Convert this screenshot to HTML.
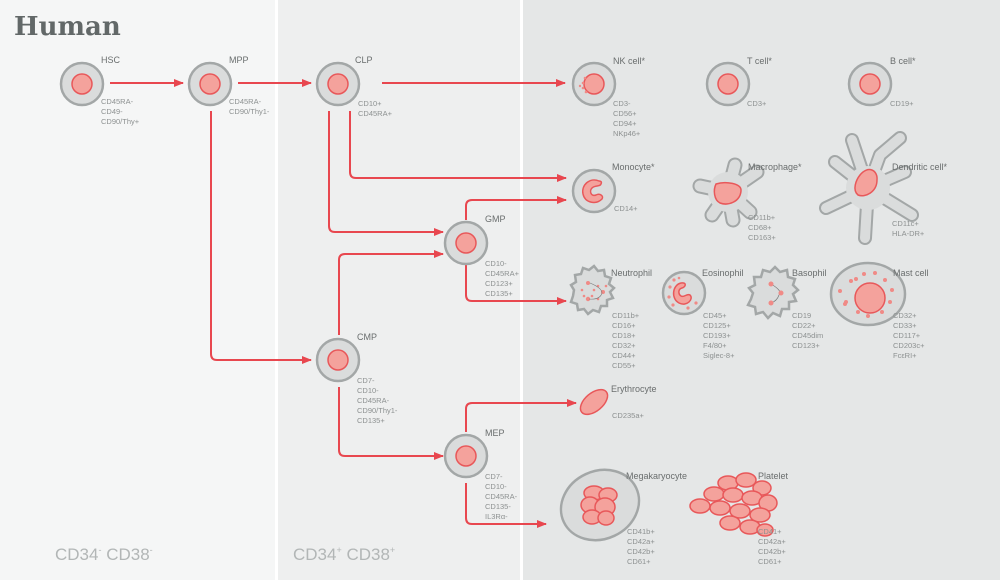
<!DOCTYPE html>
<html><head><meta charset="utf-8"><style>
html,body{margin:0;padding:0;width:1000px;height:580px;overflow:hidden;background:#fff}
svg{display:block}
text{font-family:"Liberation Sans",sans-serif}
.t{font-size:9px;fill:#6a6e6e}
.m{font-size:7.5px;fill:#8d9191}
.ln{stroke:#e8474f;stroke-width:2;fill:none}
.cell{fill:#dadcdc;stroke:#a3a7a7;stroke-width:2.5}
.nuc{fill:#f4a29c;stroke:#e8585a;stroke-width:1.5}
.ar{fill:#e8474f}
</style></head><body>
<svg width="1000" height="580" viewBox="0 0 1000 580">
<defs>
<marker id="a" markerWidth="10" markerHeight="8" refX="9" refY="4" orient="auto" markerUnits="userSpaceOnUse"><path d="M0,0 L10,4 L0,8z" class="ar"/></marker>
<g id="c"><circle r="21" class="cell"/><circle r="10" class="nuc"/></g>
</defs>
<rect x="0" y="0" width="275" height="580" fill="#f5f6f6"/>
<rect x="278" y="0" width="242" height="580" fill="#eeefef"/>
<rect x="523" y="0" width="477" height="580" fill="#e5e7e7"/>
<text x="14" y="35" style="font-family:'DejaVu Serif','Liberation Serif',serif;font-size:26px;font-weight:bold;fill:#626868">Human</text>
<text x="55" y="560" style="font-size:17px;fill:#b2b6b6">CD34<tspan dy="-7" font-size="9">-</tspan><tspan dy="7"> CD38</tspan><tspan dy="-7" font-size="9">-</tspan></text>
<text x="293" y="560" style="font-size:17px;fill:#b2b6b6">CD34<tspan dy="-7" font-size="9">+</tspan><tspan dy="7"> CD38</tspan><tspan dy="-7" font-size="9">+</tspan></text>

<g class="ln">
<path d="M110,83 H183" marker-end="url(#a)"/>
<path d="M238,83 H311" marker-end="url(#a)"/>
<path d="M382,83 H565" marker-end="url(#a)"/>
<path d="M211,111 V354 q0,6 6,6 H311" marker-end="url(#a)"/>
<path d="M329,111 V226 q0,6 6,6 H443" marker-end="url(#a)"/>
<path d="M350,111 V172 q0,6 6,6 H566" marker-end="url(#a)"/>
<path d="M339,335 V260 q0,-6 6,-6 H443" marker-end="url(#a)"/>
<path d="M339,387 V450 q0,6 6,6 H443" marker-end="url(#a)"/>
<path d="M466,220 V206 q0,-6 6,-6 H566" marker-end="url(#a)"/>
<path d="M466,265 V295 q0,6 6,6 H566" marker-end="url(#a)"/>
<path d="M466,432 V409 q0,-6 6,-6 H576" marker-end="url(#a)"/>
<path d="M466,483 V518 q0,6 6,6 H546" marker-end="url(#a)"/>
</g>

<use href="#c" x="82" y="84"/><use href="#c" x="210" y="84"/><use href="#c" x="338" y="84"/>
<use href="#c" x="466" y="243"/><use href="#c" x="338" y="360"/><use href="#c" x="466" y="456"/>
<use href="#c" x="728" y="84"/><use href="#c" x="870" y="84"/>
<g transform="translate(594,84)"><circle r="21" class="cell"/><circle r="10" class="nuc"/>
<g fill="#f08a86"><circle cx="-9" cy="-6" r="1.3"/><circle cx="-11" cy="-1" r="1.3"/><circle cx="-11" cy="4" r="1.3"/><circle cx="-8" cy="8" r="1.3"/><circle cx="-14" cy="2" r="1.2"/></g></g>

<text class="t" x="101" y="63">HSC</text>
<text class="m" x="101" y="104">CD45RA-</text><text class="m" x="101" y="114">CD49-</text><text class="m" x="101" y="124">CD90/Thy+</text>
<text class="t" x="229" y="63">MPP</text>
<text class="m" x="229" y="104">CD45RA-</text><text class="m" x="229" y="114">CD90/Thy1-</text>
<text class="t" x="355" y="63">CLP</text>
<text class="m" x="358" y="106">CD10+</text><text class="m" x="358" y="116">CD45RA+</text>
<text class="t" x="485" y="222">GMP</text>
<text class="m" x="485" y="266">CD10-</text><text class="m" x="485" y="276">CD45RA+</text><text class="m" x="485" y="286">CD123+</text><text class="m" x="485" y="296">CD135+</text>
<text class="t" x="357" y="340">CMP</text>
<text class="m" x="357" y="383">CD7-</text><text class="m" x="357" y="393">CD10-</text><text class="m" x="357" y="403">CD45RA-</text><text class="m" x="357" y="413">CD90/Thy1-</text><text class="m" x="357" y="423">CD135+</text>
<text class="t" x="485" y="436">MEP</text>
<text class="m" x="485" y="479">CD7-</text><text class="m" x="485" y="489">CD10-</text><text class="m" x="485" y="499">CD45RA-</text><text class="m" x="485" y="509">CD135-</text><text class="m" x="485" y="519">IL3Rα-</text>

<text class="t" x="613" y="64">NK cell*</text>
<text class="m" x="613" y="106">CD3-</text><text class="m" x="613" y="116">CD56+</text><text class="m" x="613" y="126">CD94+</text><text class="m" x="613" y="136">NKp46+</text>
<text class="t" x="747" y="64">T cell*</text><text class="m" x="747" y="106">CD3+</text>
<text class="t" x="890" y="64">B cell*</text><text class="m" x="890" y="106">CD19+</text>

<g transform="translate(594,191)"><circle r="21" class="cell"/>
<path d="M5,-10 C-4,-14 -13,-6 -11,3 C-9,12 2,14 8,8 C10,5 6,2 2,4 C-3,6 -5,0 -2,-3 C1,-6 6,-4 7,-7 C8,-9 7,-10 5,-10z" class="nuc"/></g>
<text class="t" x="612" y="170">Monocyte*</text><text class="m" x="614" y="211">CD14+</text>
<g stroke-linecap="round" fill="none">
<g stroke="#a3a7a7" stroke-width="15"><path d="M728,192 L700,186"/><path d="M728,192 L735,165"/><path d="M728,192 L757,172"/><path d="M728,192 L750,212"/><path d="M728,192 L733,220"/><path d="M728,192 L712,215"/></g>
<g stroke="#dadcdc" stroke-width="11"><path d="M728,192 L700,186"/><path d="M728,192 L735,165"/><path d="M728,192 L757,172"/><path d="M728,192 L750,212"/><path d="M728,192 L733,220"/><path d="M728,192 L712,215"/></g>
</g>
<circle cx="728" cy="192" r="20" fill="#dadcdc"/>
<path d="M716,184 C725,181 742,183 741,191 C740,202 728,206 720,203 C714,200 713,190 716,184z" class="nuc"/>
<text class="t" x="748" y="170">Macrophage*</text>
<text class="m" x="748" y="220">CD11b+</text><text class="m" x="748" y="230">CD68+</text><text class="m" x="748" y="240">CD163+</text>
<g stroke-linecap="round" stroke-linejoin="round" fill="none">
<g stroke="#a3a7a7" stroke-width="14"><path d="M868,188 L835,162"/><path d="M868,188 L852,140"/><path d="M868,188 L880,155 L900,138"/><path d="M868,188 L826,208"/><path d="M868,188 L865,238"/><path d="M868,188 L912,215"/><path d="M868,188 L905,172"/></g>
<g stroke="#dadcdc" stroke-width="10"><path d="M868,188 L835,162"/><path d="M868,188 L852,140"/><path d="M868,188 L880,155 L900,138"/><path d="M868,188 L826,208"/><path d="M868,188 L865,238"/><path d="M868,188 L912,215"/><path d="M868,188 L905,172"/></g>
</g>
<circle cx="868" cy="188" r="22" fill="#dadcdc"/>
<path d="M860,175 C868,165 878,170 877,180 C877,192 865,198 858,195 C852,190 856,180 860,175z" class="nuc"/>
<text class="t" x="892" y="170">Dendritic cell*</text>
<text class="m" x="892" y="226">CD11c+</text><text class="m" x="892" y="236">HLA-DR+</text>

<g transform="translate(594,290)"><path d="M-20,0 l-3,-5 l5,-3 l-1,-7 l6,-1 l2,-6 l6,2 l5,-4 l4,5 l6,-1 l1,6 l6,2 l-2,6 l5,4 l-4,4 l3,6 l-6,2 l0,6 l-6,0 l-2,6 l-6,-2 l-5,4 l-4,-5 l-6,1 l-1,-6 l-6,-2 l2,-6z" class="cell" stroke-width="2"/>
<g fill="#f08a86"><circle cx="-6" cy="-7" r="2"/><circle cx="9" cy="2" r="2"/><circle cx="-6" cy="9" r="2.2"/><circle cx="-12" cy="0" r="1.3"/><circle cx="0" cy="0" r="1.3"/><circle cx="4" cy="-4" r="1.3"/><circle cx="-2" cy="6" r="1.3"/><circle cx="4" cy="9" r="1.3"/><circle cx="12" cy="-4" r="1.3"/><circle cx="-10" cy="6" r="1.3"/></g>
<path d="M-4,-7 Q8,-2 8,3 Q6,10 -5,9" stroke="#777" stroke-width="0.6" fill="none"/></g>
<text class="t" x="611" y="276">Neutrophil</text>
<text class="m" x="612" y="318">CD11b+</text><text class="m" x="612" y="328">CD16+</text><text class="m" x="612" y="338">CD18+</text><text class="m" x="612" y="348">CD32+</text><text class="m" x="612" y="358">CD44+</text><text class="m" x="612" y="368">CD55+</text>
<g transform="translate(684,293)"><circle r="21" class="cell"/>
<path d="M-3,-10 C-12,-8 -13,6 -5,10 C3,14 10,6 6,2 C3,0 0,5 -3,3 C-6,1 -6,-4 -2,-5 C2,-6 3,-11 -3,-10z" class="nuc"/>
<g fill="#f08a86"><circle cx="-14" cy="-6" r="1.6"/><circle cx="-10" cy="-13" r="1.6"/><circle cx="-15" cy="4" r="1.6"/><circle cx="-11" cy="12" r="1.6"/><circle cx="4" cy="15" r="1.6"/><circle cx="12" cy="10" r="1.6"/><circle cx="-5" cy="-15" r="1.3"/></g></g>
<text class="t" x="702" y="276">Eosinophil</text>
<text class="m" x="703" y="318">CD45+</text><text class="m" x="703" y="328">CD125+</text><text class="m" x="703" y="338">CD193+</text><text class="m" x="703" y="348">F4/80+</text><text class="m" x="703" y="358">Siglec-8+</text>
<g transform="translate(775,293)"><path d="M-22,0 l-4,-5 l6,-3 l-1,-8 l7,0 l2,-7 l7,2 l5,-5 l5,5 l7,-2 l1,7 l7,2 l-2,6 l5,5 l-5,4 l3,7 l-7,1 l0,7 l-7,0 l-2,7 l-7,-3 l-5,5 l-5,-6 l-7,2 l-1,-7 l-7,-2 l3,-6z" class="cell" stroke-width="2"/>
<path d="M-4,-9 Q8,-2 4,2 Q2,8 -4,10" stroke="#777" stroke-width="0.7" fill="none"/>
<g fill="#f08a86"><circle cx="-4" cy="-9" r="2.5"/><circle cx="6" cy="0" r="2.5"/><circle cx="-4" cy="10" r="2.5"/></g></g>
<text class="t" x="792" y="276">Basophil</text>
<text class="m" x="792" y="318">CD19</text><text class="m" x="792" y="328">CD22+</text><text class="m" x="792" y="338">CD45dim</text><text class="m" x="792" y="348">CD123+</text>
<g transform="translate(868,294)"><ellipse rx="37" ry="31" class="cell"/><circle cx="2" cy="4" r="15" class="nuc"/>
<g fill="#f08a86"><circle cx="-17" cy="-13" r="2"/><circle cx="-12" cy="-15" r="2"/><circle cx="-4" cy="-20" r="2"/><circle cx="7" cy="-21" r="2"/><circle cx="17" cy="-14" r="2"/><circle cx="24" cy="-4" r="2"/><circle cx="22" cy="8" r="2"/><circle cx="14" cy="18" r="2"/><circle cx="0" cy="22" r="2"/><circle cx="-10" cy="18" r="2"/><circle cx="-22" cy="8" r="2"/><circle cx="-28" cy="-3" r="2"/><circle cx="-23" cy="10" r="2"/></g></g>
<text class="t" x="893" y="276">Mast cell</text>
<text class="m" x="893" y="318">CD32+</text><text class="m" x="893" y="328">CD33+</text><text class="m" x="893" y="338">CD117+</text><text class="m" x="893" y="348">CD203c+</text><text class="m" x="893" y="358">FcεRI+</text>

<g transform="translate(594,402) rotate(-40)"><ellipse rx="16" ry="9" class="nuc"/></g>
<text class="t" x="611" y="392">Erythrocyte</text><text class="m" x="612" y="418">CD235a+</text>
<g transform="translate(600,505)"><ellipse rx="40" ry="34" transform="rotate(-25)" class="cell"/>
<g class="nuc"><ellipse cx="-6" cy="-12" rx="10" ry="7"/><ellipse cx="8" cy="-10" rx="9" ry="7"/><ellipse cx="-10" cy="0" rx="9" ry="8"/><ellipse cx="5" cy="2" rx="10" ry="9"/><ellipse cx="-8" cy="12" rx="9" ry="7"/><ellipse cx="6" cy="13" rx="8" ry="7"/></g></g>
<text class="t" x="626" y="479">Megakaryocyte</text>
<text class="m" x="627" y="534">CD41b+</text><text class="m" x="627" y="544">CD42a+</text><text class="m" x="627" y="554">CD42b+</text><text class="m" x="627" y="564">CD61+</text>
<g class="nuc" stroke-width="1.8">
<ellipse cx="728" cy="483" rx="10" ry="7"/>
<ellipse cx="746" cy="480" rx="10" ry="7"/>
<ellipse cx="762" cy="488" rx="9" ry="7"/>
<ellipse cx="714" cy="494" rx="10" ry="7"/>
<ellipse cx="733" cy="495" rx="10" ry="7"/>
<ellipse cx="752" cy="498" rx="10" ry="7"/>
<ellipse cx="768" cy="503" rx="9" ry="8"/>
<ellipse cx="700" cy="506" rx="10" ry="7"/>
<ellipse cx="720" cy="508" rx="10" ry="7"/>
<ellipse cx="740" cy="511" rx="10" ry="7"/>
<ellipse cx="760" cy="515" rx="10" ry="7"/>
<ellipse cx="730" cy="523" rx="10" ry="7"/>
<ellipse cx="750" cy="527" rx="10" ry="7"/>
<ellipse cx="765" cy="530" rx="8" ry="6"/>
</g>
<text class="t" x="758" y="479">Platelet</text>
<text class="m" x="758" y="534">CD41+</text><text class="m" x="758" y="544">CD42a+</text><text class="m" x="758" y="554">CD42b+</text><text class="m" x="758" y="564">CD61+</text>
</svg>
</body></html>
